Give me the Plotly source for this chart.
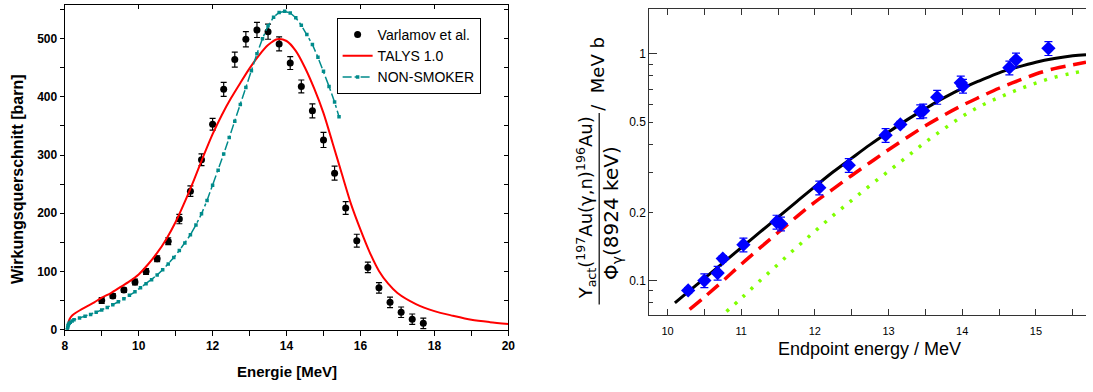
import math
import plotly.graph_objects as go

W, H = 1093, 392

# ---------------- left panel: 197Au(g,n) cross section ----------------
varlamov_e = [9.0, 9.3, 9.6, 9.9, 10.2, 10.5, 10.8, 11.1, 11.4, 11.7, 12.0, 12.3, 12.6, 12.9, 13.2,
              13.5, 13.8, 14.1, 14.4, 14.7, 15.0, 15.3, 15.6, 15.9, 16.2, 16.5, 16.8, 17.1, 17.4, 17.7]
varlamov_sigma = [50, 58, 68, 82, 100, 122, 152, 190, 238, 292, 353, 413, 464, 499, 515,
                  512, 491, 458, 418, 376, 326, 269, 209, 153, 107, 72, 47, 30, 18, 11]
varlamov_err = [5, 4, 4, 5, 5, 5, 6, 8, 9, 10, 10, 12, 13, 13, 13,
                13, 12, 11, 11, 12, 13, 12, 11, 11, 9, 9, 9, 9, 9, 9]

talys_e = [8.08, 8.10, 8.13, 8.18, 8.25, 8.4, 8.6, 8.8, 9.0, 9.25, 9.5, 9.75, 10.0, 10.25, 10.5,
           10.75, 11.0, 11.25, 11.5, 11.75, 12.0, 12.25, 12.5, 12.75, 13.0, 13.25, 13.5, 13.75,
           14.0, 14.25, 14.5, 14.75, 15.0, 15.25, 15.5, 15.75, 16.0, 16.25, 16.5, 16.75, 17.0,
           17.5, 18.0, 18.5, 19.0, 19.5, 20.0]
talys_sigma = [0, 12, 18, 23, 27, 33, 40, 47, 55, 63, 73, 83, 95, 112, 132,
               156, 185, 220, 258, 298, 336, 369, 398, 424, 449, 471, 489, 499,
               496, 479, 450, 414, 372, 320, 267, 215, 172, 133, 101, 79, 63,
               44, 32, 24, 17, 13, 10]

nonsmoker_e = [8.07, 8.08, 8.09, 8.10, 8.12, 8.15, 8.20, 8.25, 8.40, 8.55, 8.70, 8.85, 9.00,
               9.15, 9.30, 9.45, 9.60, 9.75, 9.90, 10.05, 10.20, 10.35, 10.50, 10.65, 10.80,
               10.95, 11.10, 11.25, 11.40, 11.55, 11.70, 11.85, 12.00, 12.15, 12.30, 12.45,
               12.60, 12.75, 12.90, 13.05, 13.20, 13.35, 13.50, 13.65, 13.80, 13.95, 14.10,
               14.25, 14.40, 14.55, 14.70, 14.85, 15.00, 15.15, 15.30, 15.42]
nonsmoker_sigma = [0, 4, 7, 9, 11, 13, 15, 17, 20, 23, 26, 30, 34,
                   38, 43, 48, 53, 59, 65, 72, 79, 86, 94, 103, 113,
                   124, 136, 149, 163, 180, 199, 222, 248, 274, 302, 330,
                   358, 387, 416, 445, 474, 500, 522, 537, 545, 547, 544,
                   536, 523, 507, 490, 468, 444, 418, 391, 366]

# ---------------- right panel: activation yield ratio ----------------
yield_e = [10.28, 10.50, 10.68, 10.75, 11.03, 11.48, 11.54, 12.06, 12.46, 12.96,
           13.16, 13.43, 13.47, 13.66, 13.98, 14.01, 14.64, 14.73, 15.17]
yield_val = [0.0905, 0.100, 0.108, 0.125, 0.144, 0.1815, 0.178, 0.257, 0.323, 0.438,
             0.489, 0.557, 0.562, 0.645, 0.746, 0.722, 0.870, 0.942, 1.059]
yield_err_pct = [3, 7, 7, 3, 7, 7, 7, 7, 7, 7,
                 3, 7, 7, 7, 7, 7, 7, 7, 7]

black_e = [10.10, 10.25, 10.50, 10.75, 11.00, 11.25, 11.50, 11.75, 12.00, 12.25, 12.50,
           12.75, 13.00, 13.25, 13.50, 13.75, 14.00, 14.25, 14.50, 14.75, 15.00, 15.25,
           15.50, 15.68]
black_val = [0.0798, 0.0876, 0.1023, 0.1195, 0.1396, 0.1631, 0.1905, 0.2226, 0.2598, 0.302,
             0.347, 0.398, 0.4525, 0.512, 0.574, 0.640, 0.705, 0.765, 0.826, 0.875, 0.920,
             0.955, 0.982, 0.993]

red_e = [10.30, 10.50, 10.75, 11.00, 11.25, 11.50, 11.75, 12.00, 12.25, 12.50, 12.75,
         13.00, 13.25, 13.50, 13.75, 14.00, 14.25, 14.50, 14.75, 15.00, 15.25, 15.50, 15.68]
red_val = [0.0746, 0.0845, 0.0995, 0.118, 0.139, 0.163, 0.191, 0.222, 0.254, 0.291, 0.332,
           0.378, 0.428, 0.482, 0.537, 0.593, 0.648, 0.706, 0.760, 0.816, 0.862, 0.896, 0.920]

green_e = [10.80, 11.00, 11.25, 11.50, 11.75, 12.00, 12.25, 12.50, 12.75, 13.00, 13.25,
           13.50, 13.75, 14.00, 14.25, 14.50, 14.75, 15.00, 15.25, 15.50, 15.68]
green_val = [0.073, 0.0835, 0.0995, 0.118, 0.140, 0.165, 0.194, 0.226, 0.263, 0.304, 0.352,
             0.408, 0.467, 0.530, 0.590, 0.643, 0.695, 0.744, 0.789, 0.823, 0.846]

y_major = [0.1, 0.2, 0.5, 1]
y_major_text = ["0.1", "0.2", "0.5", "1"]
y_minor = [0.08, 0.09, 0.3, 0.4, 0.6, 0.7, 0.8, 0.9]
y_long = [0.1, 1]


def px(x):
    return x / W


def py(y):
    return 1 - y / H


ARIAL = "Arial, Liberation Sans, sans-serif"
DEJAVU = "DejaVu Sans, sans-serif"
TEAL = "#008b8b"
AXIS_GREY = "#333333"

fig = go.Figure()

fig.add_trace(go.Scatter(
    x=varlamov_e, y=varlamov_sigma, mode="markers", name="Varlamov et al.",
    marker=dict(symbol="circle", size=7, color="black"),
    error_y=dict(type="data", array=varlamov_err, color="black", thickness=1.2, width=3),
    xaxis="x", yaxis="y"))
fig.add_trace(go.Scatter(
    x=talys_e, y=talys_sigma, mode="lines", name="TALYS 1.0",
    line=dict(color="#ff0000", width=2, shape="spline", smoothing=0.8),
    xaxis="x", yaxis="y"))
fig.add_trace(go.Scatter(
    x=nonsmoker_e, y=nonsmoker_sigma, mode="lines+markers", name="NON-SMOKER",
    line=dict(color=TEAL, width=1.5, dash="dashdot"),
    marker=dict(symbol="square", size=3.5, color=TEAL),
    xaxis="x", yaxis="y"))

# overlay axes carrying the inward ticks on the top and right frame edges
fig.add_trace(go.Scatter(x=[], y=[], xaxis="x3", yaxis="y", showlegend=False, hoverinfo="skip"))
fig.add_trace(go.Scatter(x=[], y=[], xaxis="x", yaxis="y3", showlegend=False, hoverinfo="skip"))

# right panel curves
fig.add_trace(go.Scatter(
    x=green_e, y=green_val, mode="lines", showlegend=False,
    line=dict(color="#7fff00", width=3.5, dash="3px,8px", shape="spline"),
    xaxis="x2", yaxis="y2"))
fig.add_trace(go.Scatter(
    x=red_e, y=red_val, mode="lines", showlegend=False,
    line=dict(color="#ff0000", width=3.5, dash="15px,8px", shape="spline"),
    xaxis="x2", yaxis="y2"))
fig.add_trace(go.Scatter(
    x=black_e, y=black_val, mode="lines", showlegend=False,
    line=dict(color="black", width=3, shape="spline"),
    xaxis="x2", yaxis="y2"))
fig.add_trace(go.Scatter(
    x=yield_e, y=yield_val, mode="markers", showlegend=False,
    marker=dict(symbol="diamond", size=11, color="#0000ff"),
    error_y=dict(type="data",
                 array=[v * p / 100 for v, p in zip(yield_val, yield_err_pct)],
                 color="#0000ff", thickness=1.2, width=4),
    xaxis="x2", yaxis="y2"))
fig.add_trace(go.Scatter(x=[], y=[], xaxis="x2", yaxis="y4", showlegend=False, hoverinfo="skip"))

axis_common = dict(showgrid=False, zeroline=False, linecolor="black", linewidth=1.2,
                   tickcolor="black", tickwidth=1.2)

left_dom_x = [px(62.3), px(510)]
left_dom_y = [py(335.7), py(5)]
right_dom_x = [px(652.3), 1.0]
right_dom_y = [py(320.7), py(9)]

fig.update_layout(
    width=W, height=H,
    margin=dict(l=0, r=0, t=0, b=0),
    paper_bgcolor="white", plot_bgcolor="white",
    showlegend=True,
    legend=dict(x=px(336.7), y=py(18.3), xanchor="left", yanchor="top",
                bgcolor="white", bordercolor="black", borderwidth=1,
                font=dict(family=ARIAL, size=14, color="black"),
                tracegroupgap=0, itemwidth=30),
    xaxis=dict(domain=left_dom_x, range=[8, 20], anchor="y", tick0=8, dtick=2,
               ticks="outside", ticklen=5, showline=True, mirror=True,
               minor=dict(dtick=1, ticks="outside", ticklen=5, tickcolor="black"),
               tickfont=dict(family=ARIAL, size=12, color="black", weight="bold"),
               **axis_common),
    yaxis=dict(domain=left_dom_y, range=[0, 558], anchor="x", tick0=0, dtick=100,
               ticks="outside", ticklen=4, showline=True, mirror=True,
               minor=dict(dtick=50, ticks="outside", ticklen=4, tickcolor="black"),
               tickfont=dict(family=ARIAL, size=12, color="black", weight="bold"),
               **axis_common),
    xaxis3=dict(overlaying="x", matches="x", side="top", anchor="y", tick0=8, dtick=2,
                ticks="inside", ticklen=4, showticklabels=False, showline=False,
                showgrid=False, zeroline=False, tickcolor="black", tickwidth=1.2),
    yaxis3=dict(overlaying="y", matches="y", side="right", anchor="x", tick0=0, dtick=50,
                ticks="inside", ticklen=4, showticklabels=False, showline=False,
                showgrid=False, zeroline=False, tickcolor="black", tickwidth=1.2),
    xaxis2=dict(domain=right_dom_x, range=[9.753, 15.68], anchor="y2", tick0=10, dtick=1,
                ticks="inside", ticklen=6, showline=True, mirror="ticks",
                minor=dict(dtick=0.5, ticks="inside", ticklen=6, tickcolor=AXIS_GREY),
                tickfont=dict(family=ARIAL, size=11, color="black"),
                ticklabelstandoff=6,
                showgrid=False, zeroline=False, linecolor=AXIS_GREY, linewidth=1.2,
                tickcolor=AXIS_GREY, tickwidth=1.2),
    yaxis2=dict(domain=right_dom_y, type="log",
                range=[math.log10(0.0705), math.log10(1.582)], anchor="x2",
                tickmode="array", tickvals=y_major, ticktext=y_major_text,
                ticks="inside", ticklen=4, showline=True, mirror=False,
                minor=dict(tickmode="array", tickvals=y_minor, ticks="inside", ticklen=4,
                           tickcolor=AXIS_GREY),
                tickfont=dict(family=ARIAL, size=12, color="black"),
                showgrid=False, zeroline=False, linecolor=AXIS_GREY, linewidth=1.2,
                tickcolor=AXIS_GREY, tickwidth=1.2),
    yaxis4=dict(overlaying="y2", matches="y2", type="log", side="left", anchor="x2",
                tickmode="array", tickvals=y_long, ticks="inside", ticklen=8,
                showticklabels=False, showline=False, showgrid=False, zeroline=False,
                tickcolor=AXIS_GREY, tickwidth=1.2),
)

annotations = [
    dict(text="<b>Wirkungsquerschnitt [barn]</b>", x=px(14.5), y=py(182), textangle=-90,
         font=dict(family=ARIAL, size=16, color="black")),
    dict(text="<b>Energie [MeV]</b>", x=px(286.3), y=py(378),
         font=dict(family=ARIAL, size=15, color="black")),
    dict(text="Endpoint energy / MeV", x=px(874.7), y=py(355.7),
         font=dict(family=ARIAL, size=18, color="black")),
    dict(text="Y<sub>act</sub>(<sup>197</sup>Au(γ,n)<sup>196</sup>Au)",
         x=px(588), y=py(211.5), textangle=-90,
         font=dict(family=DEJAVU, size=18, color="black")),
    dict(text="Φ<sub>γ</sub>(8924 keV)", x=px(614), y=py(216.5), textangle=-90,
         font=dict(family=DEJAVU, size=20, color="black")),
    dict(text="/&nbsp;&nbsp;MeV b", x=px(600.5), y=py(75), textangle=-90,
         font=dict(family=DEJAVU, size=18, color="black")),
]
for a in annotations:
    a.update(xref="paper", yref="paper", xanchor="center", yanchor="middle",
             showarrow=False)
fig.update_layout(annotations=annotations)

# fraction bar of the ordinate label
fig.add_shape(type="line", xref="paper", yref="paper",
              x0=px(601.7), x1=px(601.7), y0=py(115), y1=py(310),
              line=dict(color="black", width=1.2))

fig.write_html("out.html")
